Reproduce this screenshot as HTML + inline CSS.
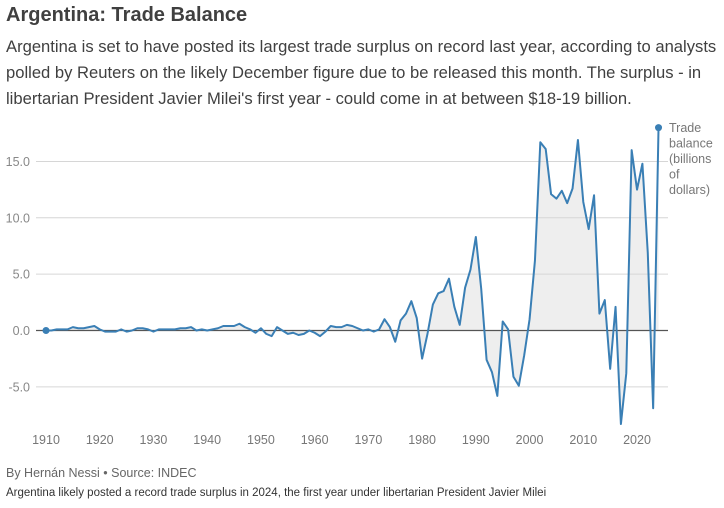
<!DOCTYPE html>
<html><head><meta charset="utf-8"><style>
body{margin:0;width:724px;height:508px;background:#fff;font-family:"Liberation Sans",sans-serif;overflow:hidden;position:relative}
.t{position:absolute;left:6px;top:4px;font-size:20px;font-weight:bold;color:#404040}
.s{position:absolute;left:6px;top:34px;width:716px;font-size:16.6px;line-height:26px;color:#404040}
.f1{position:absolute;left:6px;top:466px;font-size:12.5px;color:#666}
.f2{position:absolute;left:6px;top:487px;font-size:11.5px;color:#333}
svg{position:absolute;left:0;top:0}
</style></head><body>
<div class="t">Argentina: Trade Balance</div>
<div class="s">Argentina is set to have posted its largest trade surplus on record last year, according to analysts polled by Reuters on the likely December figure due to be released this month. The surplus - in libertarian President Javier Milei's first year - could come in at between $18-19 billion.</div>
<svg id="c" width="724" height="508"></svg>
<div class="f1">By Hernán Nessi • Source: INDEC</div>
<div class="f2">Argentina likely posted a record trade surplus in 2024, the first year under libertarian President Javier Milei</div>
<script>
const startYear=1910;
const values=[0,0,0.1,0.1,0.1,0.3,0.2,0.2,0.3,0.4,0.1,-0.1,-0.1,-0.1,0.1,-0.1,0,0.2,0.2,0.1,-0.1,0.1,0.1,0.1,0.1,0.2,0.2,0.3,0,0.1,0,0.1,0.2,0.4,0.4,0.4,0.6,0.3,0.1,-0.2,0.2,-0.3,-0.5,0.3,0,-0.3,-0.2,-0.4,-0.3,0,-0.2,-0.5,-0.1,0.4,0.3,0.3,0.5,0.4,0.2,0,0.1,-0.1,0.1,1.0,0.3,-1.0,0.9,1.5,2.6,1.1,-2.5,-0.3,2.3,3.3,3.5,4.6,2.1,0.5,3.8,5.4,8.3,3.7,-2.6,-3.7,-5.8,0.8,0.1,-4.1,-4.9,-2.2,1.0,6.2,16.7,16.1,12.1,11.7,12.4,11.3,12.6,16.9,11.4,9.0,12.0,1.5,2.7,-3.4,2.1,-8.3,-3.8,16.0,12.5,14.8,6.9,-6.9,18.0];
const yTicks=[-5,0,5,10,15];
const yTickLabels=["-5.0","0.0","5.0","10.0","15.0"];
const xTicks=[1910,1920,1930,1940,1950,1960,1970,1980,1990,2000,2010,2020];
const svg=document.getElementById('c'),NS='http://www.w3.org/2000/svg';
const x=yr=>46+(yr-1910)*5.373, y=v=>330.5-v*11.27;
function mk(t,a){const e=document.createElementNS(NS,t);for(const k in a)e.setAttribute(k,a[k]);svg.appendChild(e);return e;}
yTicks.forEach((v,i)=>{
 const g=mk('line',{x1:36,x2:668,y1:y(v),y2:y(v),stroke:v===0?'#555':'#d6d6d6','stroke-width':v===0?1.3:1});
 
 
 const t=mk('text',{x:30,y:y(v)+4.5,'font-size':12.5,fill:'#888','text-anchor':'end','font-family':'Liberation Sans'});t.textContent=yTickLabels[i];
 
 
});
xTicks.forEach(yr=>{
 const t=mk('text',{x:x(yr),y:444,'font-size':12.5,fill:'#777','text-anchor':'middle','font-family':'Liberation Sans'});t.textContent=yr;
 
 
});
const pts=values.map((v,i)=>[x(startYear+i),y(v)]);
const area=mk('path',{d:'M'+pts[0][0]+','+y(0)+pts.map(p=>'L'+p[0]+','+p[1]).join('')+'L'+pts[pts.length-1][0]+','+y(0)+'Z',fill:'#bbb','fill-opacity':0.25});


svg.insertBefore(area,svg.firstChild);
const ln=mk('path',{d:'M'+pts.map(p=>p.join(',')).join('L'),fill:'none',stroke:'#3a7fb5','stroke-width':2,'stroke-linejoin':'round'});


[pts[0],pts[pts.length-1]].forEach(p=>{const c=mk('circle',{cx:p[0],cy:p[1],r:3.5,fill:'#3a7fb5'});
 
 });
const lab=["Trade","balance","(billions","of","dollars)"];
lab.forEach((s,i)=>{const t=mk('text',{x:669,y:132+i*15.5,'font-size':12.5,fill:'#777','font-family':'Liberation Sans'});t.textContent=s;
 
 });
</script>
</body></html>
